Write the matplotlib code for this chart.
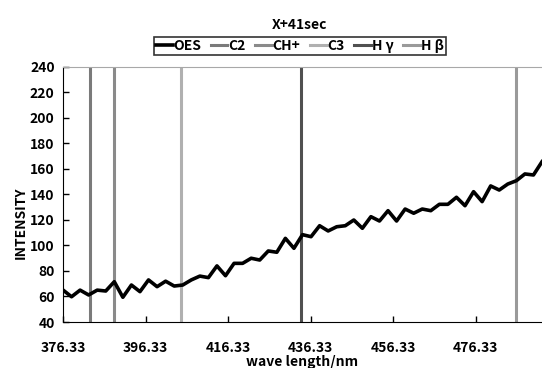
import numpy as np
import matplotlib
matplotlib.use("Agg")
import matplotlib.pyplot as plt

plt.rcParams['font.family'] = ['Noto Sans CJK JP', 'DejaVu Sans']
plt.rcParams['font.weight'] = 'bold'
plt.rcParams['axes.labelweight'] = 'bold'

# OES spectrum
intensity = [65.1, 59.8, 65.0, 61.2, 65.0, 64.3, 71.6, 59.4, 69.0, 63.8,
             73.0, 67.7, 72.0, 68.2, 69.0, 73.0, 76.0, 74.8, 84.0, 76.3,
             86.0, 86.0, 90.0, 88.6, 95.7, 94.7, 105.6, 97.8, 108.5, 106.9,
             115.5, 111.4, 114.7, 115.5, 120.0, 113.5, 122.6, 119.2, 127.3, 119.2,
             128.6, 125.3, 128.6, 127.3, 132.3, 132.3, 137.8, 131.2, 142.2, 134.4,
             146.7, 143.5, 148.2, 150.8, 156.1, 155.3, 165.7]
wavelength = np.linspace(376.33, 492.33, len(intensity))

# emission line markers
line_names = ['C2', 'CH+', 'C3', 'H γ', 'H β']
line_pos = [382.8, 388.6, 404.8, 433.9, 486.0]
line_colors = ['#7a7a7a', '#8a8a8a', '#b0b0b0', '#505050', '#9a9a9a']

xticks = [376.33, 396.33, 416.33, 436.33, 456.33, 476.33]
yticks = list(range(40, 241, 20))

fig = plt.figure(figsize=(5.42, 3.68), dpi=100)
ax = fig.add_axes([0.1162, 0.125, 0.8838, 0.693])

ax.plot(wavelength, intensity, color='black', lw=2.6, label='OES', zorder=3)
for name, pos, c in zip(line_names, line_pos, line_colors):
    ax.axvline(pos, color=c, lw=2.2, label=name, zorder=2)

ax.set_xlim(376.33, 492.33)
ax.set_ylim(40, 240)
ax.set_xticks(xticks)
ax.set_xticklabels([f'{t:.2f}' for t in xticks])
ax.set_yticks(yticks)
ax.tick_params(direction='in', length=4, width=1, labelsize=10)
ax.tick_params(axis='y', pad=6)
ax.tick_params(axis='x', pad=14)

ax.spines['top'].set_color('#a8a8a8')
ax.spines['right'].set_visible(False)
ax.spines['left'].set_color('black')
ax.spines['bottom'].set_color('black')

ax.set_xlabel('wave length/nm', fontsize=10, labelpad=0)
ax.set_ylabel('INTENSITY', fontsize=10)
ax.yaxis.set_label_coords(-0.074, 0.39)

fig.text(0.553, 0.932, 'X+41sec', ha='center', va='center', fontsize=10)

leg = fig.legend(loc='center', bbox_to_anchor=(0.553, 0.875),
                 ncol=6, fontsize=10, frameon=True, fancybox=False,
                 handlelength=1.2, handletextpad=0.05, columnspacing=0.7,
                 borderpad=0.15, edgecolor='black')
leg.get_frame().set_linewidth(1.2)

fig.savefig('out.png', dpi=100)
